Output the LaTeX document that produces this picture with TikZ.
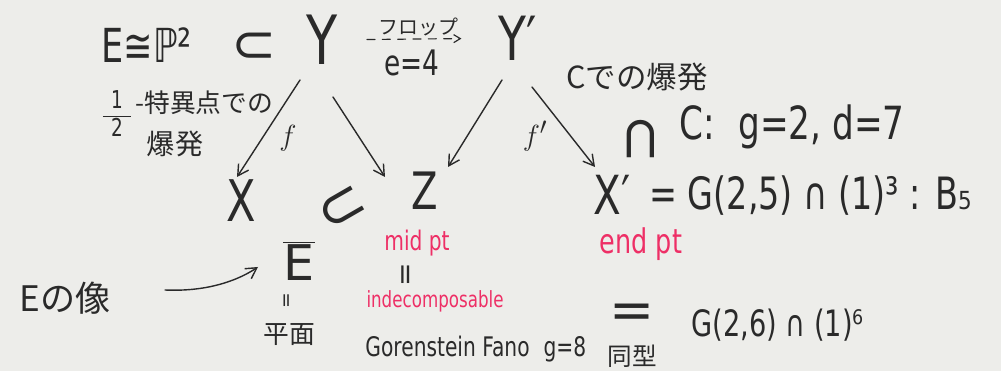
\documentclass[tikz,border=0pt]{standalone}
\usepackage{fontspec}
\setmainfont{DejaVu Sans}
\newfontfamily\hand[FakeStretch=0.75]{DejaVu Sans}
\newfontfamily\plain{DejaVu Sans}
\newfontfamily\jp{Noto Sans CJK JP}
\usetikzlibrary{arrows.meta,positioning,calc}
\definecolor{ink}{HTML}{2A2A2A}
\definecolor{hlred}{HTML}{EE2F66}
\definecolor{paper}{HTML}{EDEDEA}
\newcommand{\fsz}[1]{\fontsize{#1}{#1}\selectfont}

\begin{document}
\begin{tikzpicture}[x=0.3mm, y=-0.3mm,
  ltr/.style={font=\hand\fsz{#1}, text=ink, inner sep=1pt},
  jlbl/.style={font=\jp\fsz{#1}, text=ink, inner sep=1pt},
  hlbl/.style={font=\hand\fsz{#1}, text=hlred, inner sep=1pt},
  arr/.style={-{Straight Barb[length=3.2mm,width=3.6mm]}, line width=1.2pt, draw=ink, line cap=round},
]

%% ---- paper ----
\fill[paper] (0,0) rectangle (1001,371);
\useasboundingbox (0,0) rectangle (1001,371);

%% ---- top row: Y and its flop Y' ----
\node[ltr=40pt, anchor=west] (emb) at (100,45)
  {E≅ℙ²\hspace{12mm}{\plain\fsz{46pt}⊂}};
\node[ltr=58pt] (Y) at (322,40) {Y};
\node[ltr=52pt] (Yp) at (518,38) {Y′};

% dashed flop arrow
\draw[arr, line width=1pt, dash pattern=on 2.4mm off 2.2mm,
      -{Straight Barb[length=2mm,width=2.4mm]}, shorten <=8.4mm, shorten >=10.8mm]
  (Y) -- (Yp)
  node[midway, above=1pt, jlbl=17pt] (flop) {フロップ}
  node[midway, below=2.6mm, ltr=30pt, xshift=-2mm] (e4) {e=4};

%% ---- middle row ----
\node[ltr=49pt] (X) at (241,201) {X};
\node[ltr=44pt] (Z) at (425,191) {Z};
\node[ltr=46pt] (Xp) at (612,195) {X′};
\node[ltr=38pt, anchor=base west] (xpdef) at (648,210) {= G(2,5) ∩ (1)³ : B₅};

%% ---- the four maps ----
\draw[arr] ([shift={(-22,40)}]Y.center) -- ([shift={(-4,-24)}]X.center);
\draw[arr] ([shift={(11,57)}]Y.center) -- ([shift={(-40,-14)}]Z.center);
\draw[arr] ([shift={(-16,42)}]Yp.center) -- ([shift={(23,-24)}]Z.center);
\draw[arr] ([shift={(14,49)}]Yp.center) -- ([shift={(-17,-28)}]Xp.center);

\node[font=\fsz{34pt}, text=ink] (f) at (288,138) {$f$};
\node[font=\fsz{30pt}, text=ink] (fp) at (535,136) {$f'$};

%% ---- blow-up labels ----
\node[ltr=21pt, inner sep=0pt] (half) at (117,117)
  {\begin{tabular}{@{}c@{}}\,\,1\,\,\\[0pt]\hline\rule{0pt}{17pt}2\end{tabular}};
\node[jlbl=22pt, anchor=west] (sing) at (134,103) {-特異点での};
\node[jlbl=24pt] (blow) at (175,144) {爆発};
\node[jlbl=26pt] (cblow) at (637,77) {Cでの爆発};
\node[ltr=39pt] (cdat) at (792,127) {C:\; g=2, d=7};

% inclusions drawn sideways
\node[font=\plain\fsz{50pt}, text=ink, inner sep=0pt, rotate=-90] (csub) at (638,139) {⊂};
\node[font=\plain\fsz{50pt}, text=ink, inner sep=0pt, rotate=30] (xsub) at (343,209) {⊂};

%% ---- points on the moduli ----
\node[hlbl=23pt] (mid) at (417,243) {mid pt};
\node[hlbl=29pt] (endp) at (641,244) {end pt};
\node[font=\plain\fsz{24pt}, text=ink, rotate=90] (zeq) at (408,275) {=};
\node[hlbl=19pt] (indec) at (435,301) {indecomposable};
\node[ltr=23pt, anchor=base west] (gf) at (364,357) {Gorenstein Fano\; g=8};

%% ---- isomorphic to G(2,6) ----
\node[font=\plain\fsz{46pt}, text=ink, inner sep=0pt] (iso) at (632,316) {=};
\node[jlbl=21pt] (isolbl) at (632,356) {同型};
\node[ltr=31pt, anchor=base west] (g26) at (690,337) {G(2,6) ∩ (1)⁶};

%% ---- image of E ----
\node[font=\plain\fsz{42pt}, text=ink, inner sep=1pt] (ebar) at (299,261) {$\overline{\hbox{E}}$};
\node[font=\plain\fsz{16pt}, text=ink, rotate=90] (eeq) at (288,301) {=};
\node[jlbl=22pt] (plane) at (289,335) {平面};
\node[jlbl=30pt] (eimg) at (65,298) {Eの像};
\draw[arr] ([shift={(100,-8)}]eimg.center)
  .. controls +(45,2) and +(-18,12) .. ([shift={(-41,6)}]ebar.center);

\end{tikzpicture}
\end{document}
